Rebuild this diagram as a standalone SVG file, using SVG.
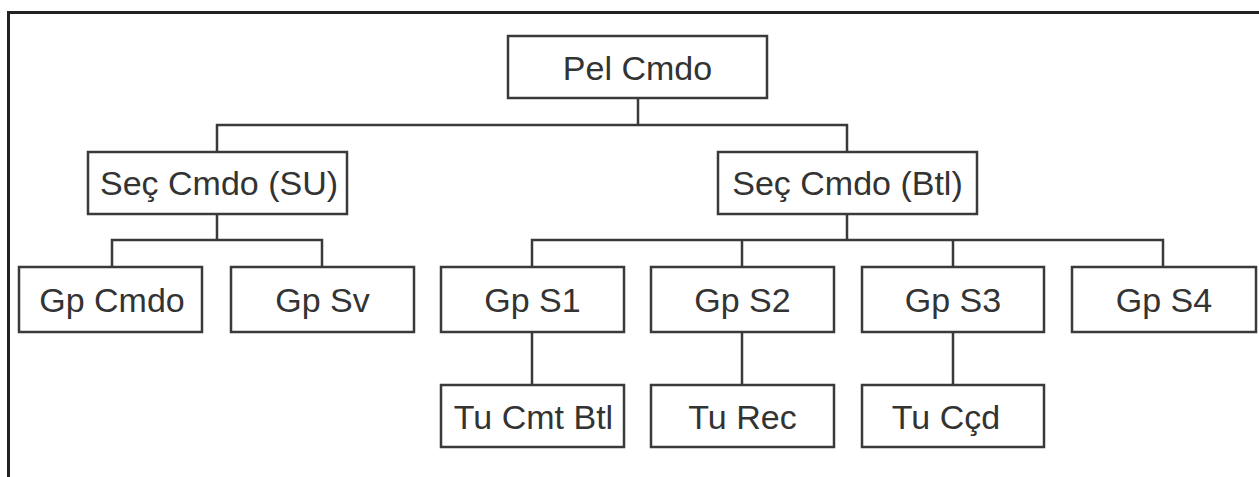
<svg xmlns="http://www.w3.org/2000/svg" width="1259" height="477" viewBox="0 0 1259 477">
<style>
.box{fill:#fff;stroke:#3a3a3a;stroke-width:2.5}
.lbl{font-family:"Liberation Sans",Arial,sans-serif;font-size:34px;fill:#333;text-anchor:middle}
.ln{fill:none;stroke:#3a3a3a;stroke-width:2.5}
</style>
<rect width="1259" height="477" fill="#fff"/>
<path d="M8.5 477 V12.5 H1259" fill="none" stroke="#222" stroke-width="3"/>
<g id="connectors">
<path class="ln" d="M638 98 V125 M217 152 V125 H847 V152"/>
<path class="ln" d="M217 214 V240 M112 267 V240 H322 V267"/>
<path class="ln" d="M847 214 V240 M532 267 V240 H1163 V267 M742 240 V267 M953 240 V267"/>
<path class="ln" d="M532 332 V385 M742 332 V385 M953 332 V385"/>
</g>
<g id="pel-cmdo"><rect class="box" x="508" y="36" width="259" height="62"/><text class="lbl" x="637.5" y="80">Pel Cmdo</text></g>
<g id="sec-cmdo-su"><rect class="box" x="88" y="152" width="259" height="62"/><text class="lbl" x="219" y="195">Seç Cmdo (SU)</text></g>
<g id="sec-cmdo-btl"><rect class="box" x="718" y="152" width="259" height="62"/><text class="lbl" x="847.5" y="195">Seç Cmdo (Btl)</text></g>
<g id="gp-cmdo"><rect class="box" x="19" y="267" width="183" height="65"/><text class="lbl" x="112" y="312">Gp Cmdo</text></g>
<g id="gp-sv"><rect class="box" x="231" y="267" width="183" height="65"/><text class="lbl" x="322.5" y="312">Gp Sv</text></g>
<g id="gp-s1"><rect class="box" x="441" y="267" width="183" height="65"/><text class="lbl" x="532.5" y="312">Gp S1</text></g>
<g id="gp-s2"><rect class="box" x="651" y="267" width="183" height="65"/><text class="lbl" x="742.5" y="312">Gp S2</text></g>
<g id="gp-s3"><rect class="box" x="862" y="267" width="182" height="65"/><text class="lbl" x="953" y="312">Gp S3</text></g>
<g id="gp-s4"><rect class="box" x="1072" y="267" width="184" height="65"/><text class="lbl" x="1164" y="312">Gp S4</text></g>
<g id="tu-cmt-btl"><rect class="box" x="441" y="385" width="183" height="62"/><text class="lbl" x="533.5" y="429">Tu Cmt Btl</text></g>
<g id="tu-rec"><rect class="box" x="651" y="385" width="183" height="62"/><text class="lbl" x="742.5" y="429">Tu Rec</text></g>
<g id="tu-ccd"><rect class="box" x="862" y="385" width="182" height="62"/><text class="lbl" x="946" y="429">Tu Cçd</text></g>
</svg>
